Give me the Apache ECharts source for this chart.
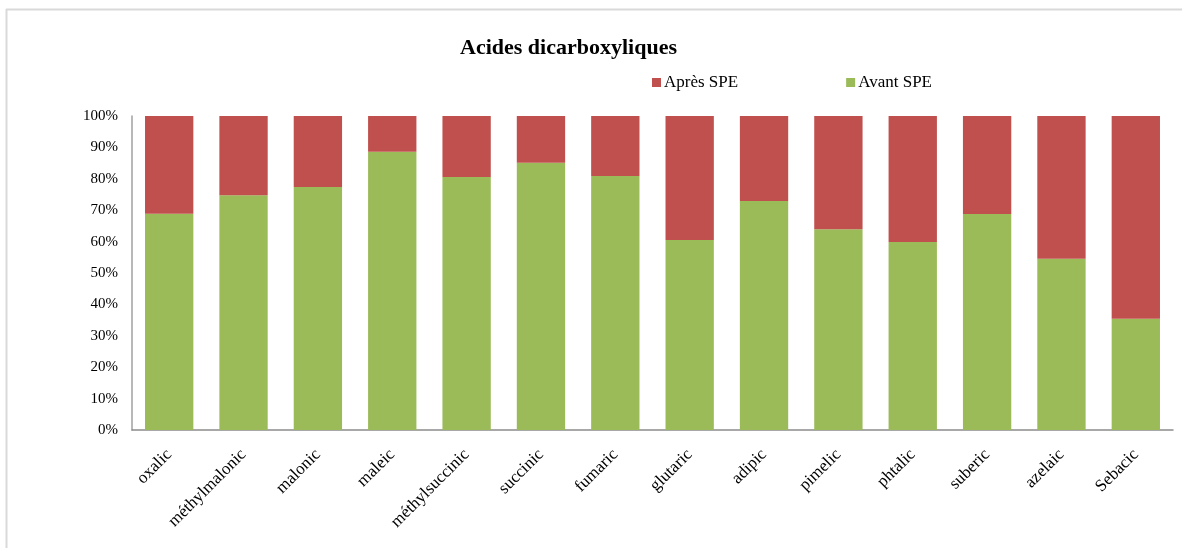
<!DOCTYPE html>
<html>
<head>
<meta charset="utf-8">
<script src="https://cdn.jsdelivr.net/npm/echarts@6/dist/echarts.min.js"></script>
<style>
  html, body { margin: 0; padding: 0; background: #fff; }
  #chart { width: 1182px; height: 548px; }
</style>
</head>
<body>
<div id="chart"></div>
<script>
const categories = ['oxalic', 'méthylmalonic', 'malonic', 'maleic', 'méthylsuccinic', 'succinic', 'fumaric', 'glutaric', 'adipic', 'pimelic', 'phtalic', 'suberic', 'azelaic', 'Sebacic'];
const avantSPE = [68.9, 74.8, 77.4, 88.6, 80.6, 85.1, 80.9, 60.5, 72.9, 63.9, 59.9, 68.8, 54.5, 35.4];
const apresSPE = [31.1, 25.2, 22.6, 11.4, 19.4, 14.9, 19.1, 39.5, 27.1, 36.1, 40.1, 31.2, 45.5, 64.6];
const yTicks = [0, 10, 20, 30, 40, 50, 60, 70, 80, 90, 100];

const serif = '"Liberation Serif", "DejaVu Serif", serif';
const chart = echarts.init(document.getElementById('chart'));
chart.setOption({
  animation: false,
  backgroundColor: '#fff',
  title: {
    text: 'Acides dicarboxyliques',
    left: 455,
    top: 32,
    textStyle: { fontFamily: serif, fontSize: 22, fontWeight: 'bold', color: '#000' }
  },
  legend: {
    data: ['Après SPE', 'Avant SPE'],
    left: 647,
    top: 69,
    itemWidth: 9,
    itemHeight: 9,
    itemGap: 108,
    icon: 'rect',
    textStyle: { fontFamily: serif, fontSize: 17, color: '#000', padding: [0, 0, 0, -2] }
  },
  grid: { left: 132, right: 9, top: 116, bottom: 118, containLabel: false },
  xAxis: {
    type: 'category',
    data: categories,
    axisLine: { show: true, lineStyle: { color: '#8c8c8c', width: 1.5 } },
    axisTick: { show: false },
    axisLabel: { interval: 0, rotate: 45, margin: 22, fontFamily: serif, fontSize: 17, color: '#000' }
  },
  yAxis: {
    type: 'value',
    min: yTicks[0],
    max: yTicks[yTicks.length - 1],
    interval: 10,
    axisLine: { show: true, lineStyle: { color: '#a0a0a0', width: 1.5 } },
    axisTick: { show: false },
    splitLine: { show: false },
    axisLabel: { formatter: '{value}%', margin: 14, fontFamily: serif, fontSize: 15, color: '#000' }
  },
  series: [
    {
      name: 'Avant SPE',
      type: 'bar',
      stack: 'total',
      data: avantSPE,
      barCategoryGap: '35%',
      itemStyle: { color: '#9BBB59' }
    },
    {
      name: 'Après SPE',
      type: 'bar',
      stack: 'total',
      data: apresSPE,
      barCategoryGap: '35%',
      itemStyle: { color: '#C0504D' }
    }
  ],
  graphic: [
    { type: 'line', silent: true, shape: { x1: 6, y1: 9.5, x2: 1182, y2: 9.5 }, style: { stroke: '#d9d9d9', lineWidth: 2 } },
    { type: 'line', silent: true, shape: { x1: 6.5, y1: 9, x2: 6.5, y2: 548 }, style: { stroke: '#d9d9d9', lineWidth: 2 } }
  ]
});
</script>
</body>
</html>
